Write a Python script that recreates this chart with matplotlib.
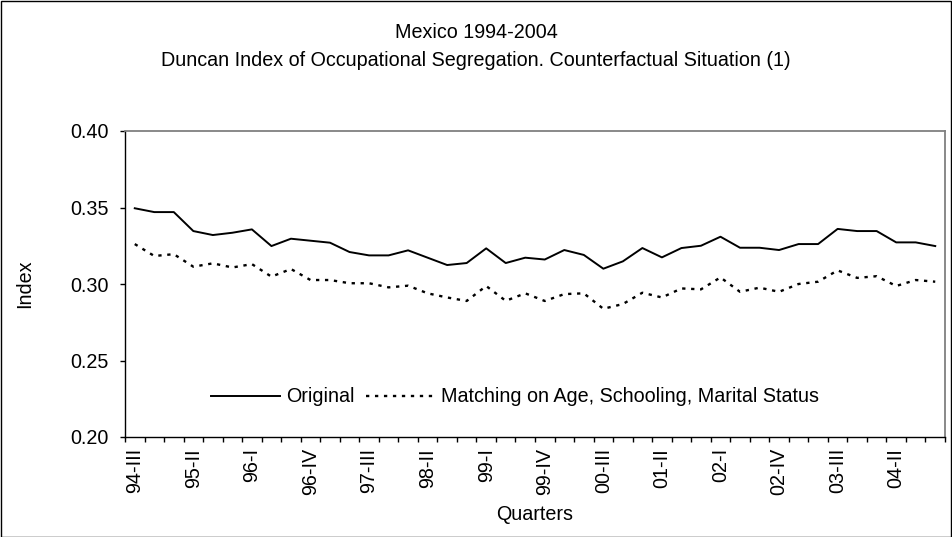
import matplotlib
matplotlib.use("Agg")
from matplotlib import pyplot as plt
from matplotlib.patches import Rectangle
import numpy as np

plt.rcParams['font.family'] = ['Liberation Sans', 'DejaVu Sans']

# quarterly values, 94-III .. 04-IV
original = [0.3495, 0.347, 0.347, 0.3346, 0.332, 0.3335, 0.3357, 0.3248, 0.3296, 0.3283,
            0.327, 0.3209, 0.3187, 0.3187, 0.322, 0.3172, 0.3124, 0.3137, 0.3233, 0.3137,
            0.3172, 0.316, 0.3222, 0.319, 0.310, 0.3148, 0.3235, 0.3174, 0.3235, 0.325,
            0.3309, 0.3237, 0.3237, 0.3222, 0.3261, 0.3261, 0.336, 0.3346, 0.3346, 0.3272,
            0.3272, 0.3248]
matching = [0.3261, 0.3183, 0.3195, 0.3113, 0.3135, 0.3108, 0.313, 0.3048, 0.3098, 0.3026,
            0.3026, 0.3005, 0.3005, 0.2978, 0.2989, 0.2939, 0.2912, 0.2889, 0.2987, 0.289,
            0.2939, 0.2889, 0.2934, 0.2939, 0.2838, 0.2869, 0.2943, 0.2912, 0.2971, 0.2965,
            0.3043, 0.2949, 0.2976, 0.2949, 0.300, 0.3015, 0.3089, 0.304, 0.3051, 0.2987,
            0.3026, 0.3015]
tick_labels = ['94-III', '95-II', '96-I', '96-IV', '97-III', '98-II', '99-I', '99-IV',
               '00-III', '01-II', '02-I', '02-IV', '03-III', '04-II']
label_step = 3

fs = 14.2
fig = plt.figure(figsize=(9.52, 5.37), dpi=100)
ax = fig.add_axes([125 / 952, 1 - 437 / 537, 820 / 952, 306 / 537])

x = np.arange(len(original))
ax.plot(x, original, color='black', lw=1.4, label='Original')
ax.plot(x, matching, color='black', lw=1.7, linestyle=(0, (1.4, 2.4)),
        label='Matching on Age, Schooling, Marital Status')

ax.set_xlim(-0.5, len(original) - 0.5)
ax.set_ylim(0.20, 0.40)
ax.set_yticks([0.20, 0.25, 0.30, 0.35, 0.40])
ax.set_yticklabels(['%.2f' % v for v in [0.20, 0.25, 0.30, 0.35, 0.40]], fontsize=fs)

ax.set_xticks(np.arange(len(original) + 1) - 0.5)
ax.set_xticklabels([])
ax.set_xticks(x[::label_step], minor=True)
ax.set_xticklabels(tick_labels, minor=True, rotation=90, fontsize=fs)
ax.tick_params(axis='x', which='minor', length=0, pad=8)
ax.tick_params(axis='both', which='major', length=3.6, width=1, direction='out', color='black')
ax.tick_params(axis='y', which='major', pad=8)

for s in ['top', 'right']:
    ax.spines[s].set_color('#808080')
    ax.spines[s].set_linewidth(1.3)
for s in ['left', 'bottom']:
    ax.spines[s].set_color('black')
    ax.spines[s].set_linewidth(1)

fig.text(25 / 952, 1 - 284 / 537, 'Index', rotation=90, ha='center', va='center', fontsize=fs)
fig.text(535 / 952, 1 - 514 / 537, 'Quarters', ha='center', va='center', fontsize=fs)

ax.legend(loc='center left', bbox_to_anchor=((211 - 125) / 820, (437 - 397) / 306),
          ncol=2, frameon=False, fontsize=fs, borderpad=0, borderaxespad=0,
          handlelength=3.5, handletextpad=0.3, columnspacing=0.6)

fig.text(0.5, 1 - 33 / 537, 'Mexico 1994-2004', ha='center', va='center', fontsize=fs)
fig.text(0.5, 1 - 61 / 537, 'Duncan Index of Occupational Segregation. Counterfactual Situation (1)',
         ha='center', va='center', fontsize=fs)

fig.patches.append(Rectangle((0.5 / 952, 0.5 / 537), 1 - 1.5 / 952, 1 - 1.5 / 537,
                             transform=fig.transFigure, fill=False, edgecolor='black', lw=1))

fig.savefig('out.png', dpi=100)
